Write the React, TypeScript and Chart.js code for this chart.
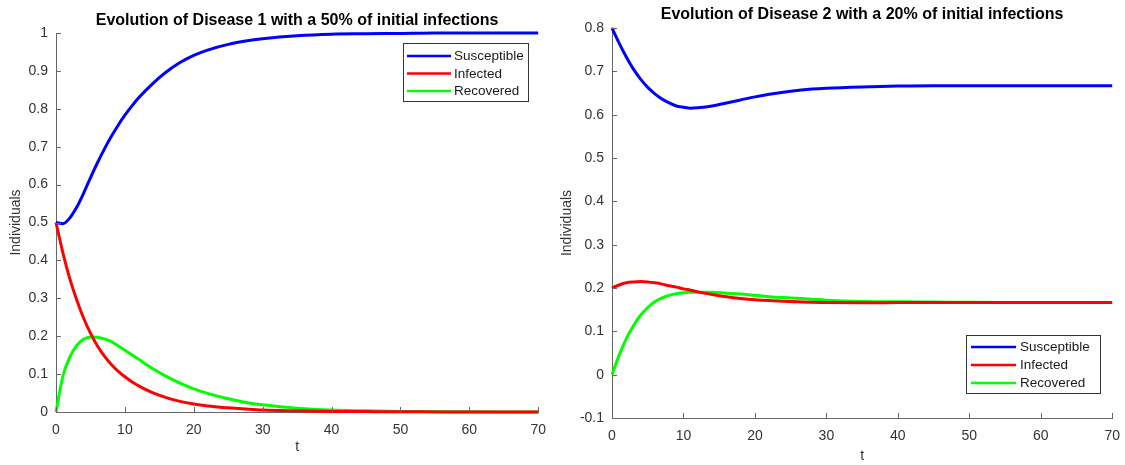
import React, { useEffect, useRef } from "react";
import { Chart, registerables } from "chart.js";

Chart.register(...registerables);

// ---------- data ----------
const timeValues = [0, 1, 2, 3, 4, 5, 6, 7, 8, 9, 10, 11, 12, 14, 16, 18, 20, 22, 25, 28, 30, 35, 40, 45, 50, 55, 60, 65, 70];

const seriesLabels = ["Susceptible", "Infected", "Recovered"];
const seriesColors = ["#0000ff", "#ff0000", "#00ff00"];

const disease1Susceptible = [0.5, 0.497, 0.512, 0.54, 0.577, 0.618, 0.657, 0.693, 0.726, 0.756, 0.783, 0.807, 0.829, 0.866, 0.897, 0.922, 0.941, 0.955, 0.97, 0.98, 0.985, 0.993, 0.997, 0.998, 0.999, 1, 1, 1, 1];
const disease1Infected = [0.5, 0.42, 0.352, 0.296, 0.248, 0.208, 0.175, 0.148, 0.126, 0.108, 0.093, 0.08, 0.069, 0.051, 0.038, 0.028, 0.021, 0.016, 0.011, 0.007, 0.005, 0.003, 0.0015, 0.001, 0.0005, 0.0003, 0.0002, 0.0001, 0];
const disease1Recovered = [0, 0.095, 0.145, 0.175, 0.192, 0.198, 0.197, 0.193, 0.186, 0.175, 0.163, 0.151, 0.139, 0.115, 0.094, 0.076, 0.061, 0.049, 0.035, 0.024, 0.019, 0.01, 0.005, 0.003, 0.0015, 0.001, 0.0005, 0.0002, 0.0001];

const disease2Susceptible = [0.8, 0.765, 0.733, 0.705, 0.682, 0.663, 0.648, 0.636, 0.627, 0.62, 0.617, 0.615, 0.616, 0.62, 0.627, 0.634, 0.641, 0.647, 0.654, 0.659, 0.661, 0.664, 0.666, 0.667, 0.667, 0.667, 0.667, 0.667, 0.667];
const disease2Infected = [0.2, 0.207, 0.212, 0.214, 0.215, 0.214, 0.212, 0.209, 0.205, 0.202, 0.198, 0.195, 0.191, 0.185, 0.18, 0.176, 0.173, 0.171, 0.169, 0.167, 0.1665, 0.166, 0.1663, 0.1665, 0.1667, 0.1667, 0.1667, 0.1667, 0.1667];
const disease2Recovered = [0, 0.045, 0.083, 0.113, 0.137, 0.155, 0.168, 0.177, 0.183, 0.187, 0.189, 0.19, 0.19, 0.19, 0.188, 0.186, 0.183, 0.18, 0.177, 0.174, 0.172, 0.169, 0.168, 0.1675, 0.167, 0.1668, 0.1667, 0.1667, 0.1667];

const xAxisMin = 0;
const xAxisMax = 70;
const xAxisStep = 10;
const disease1YRange = [0, 1];
const disease2YRange = [-0.1, 0.8];
const yAxisStep = 0.1;

const title1 = "Evolution of Disease 1 with a 50% of initial infections";
const title2 = "Evolution of Disease 2 with a 20% of initial infections";
const xTitle = "t";
const yTitle = "Individuals";

// ---------- style ----------
const FONT = "'Liberation Sans', Arial, Helvetica, sans-serif";
const AXIS_COLOR = "#666666";
const TICK_TEXT = "#333333";

const inwardTicks = {
  id: "inwardTicks",
  afterDatasetsDraw(chart: any) {
    const { ctx, chartArea, scales } = chart;
    const len = 5;
    ctx.save();
    ctx.strokeStyle = AXIS_COLOR;
    ctx.lineWidth = 1;
    scales.x.ticks.forEach((t: any) => {
      const x = Math.round(scales.x.getPixelForValue(t.value)) + 0.5;
      ctx.beginPath();
      ctx.moveTo(x, chartArea.bottom);
      ctx.lineTo(x, chartArea.bottom - len);
      ctx.stroke();
    });
    scales.y.ticks.forEach((t: any) => {
      const y = Math.round(scales.y.getPixelForValue(t.value)) + 0.5;
      ctx.beginPath();
      ctx.moveTo(chartArea.left, y);
      ctx.lineTo(chartArea.left + len, y);
      ctx.stroke();
    });
    ctx.restore();
  },
};

const boxLegend = {
  id: "boxLegend",
  afterDraw(chart: any, _args: any, opts: any) {
    const { ctx, chartArea } = chart;
    const w = opts.width;
    const h = opts.height;
    const x = Math.round(chartArea.right - opts.right - w);
    const y = opts.top !== undefined ? Math.round(chartArea.top + opts.top) : Math.round(chartArea.bottom - opts.bottom - h);
    ctx.save();
    ctx.fillStyle = "#ffffff";
    ctx.fillRect(x, y, w, h);
    ctx.strokeStyle = "#333333";
    ctx.lineWidth = 1;
    ctx.strokeRect(x + 0.5, y + 0.5, w, h);
    ctx.font = `${opts.fontSize}px ${FONT}`;
    ctx.textBaseline = "middle";
    ctx.textAlign = "left";
    chart.data.datasets.forEach((ds: any, i: number) => {
      const ry = y + opts.rowStart + i * opts.rowGap;
      ctx.strokeStyle = ds.borderColor;
      ctx.lineWidth = 2.5;
      ctx.beginPath();
      ctx.moveTo(x + opts.lineStart, ry);
      ctx.lineTo(x + opts.lineEnd, ry);
      ctx.stroke();
      ctx.fillStyle = "#1a1a1a";
      ctx.fillText(ds.label, x + opts.textStart, ry + 0.5);
    });
    ctx.restore();
  },
};

type PanelProps = {
  left: number;
  width: number;
  title: string;
  series: number[][];
  yRange: number[];
  area: { left: number; top: number; bottom: number };
  titlePad: { top: number; bottom: number };
  yTitlePad: number;
  xTitlePad: number;
  legend: any;
};

function Panel(props: PanelProps) {
  const ref = useRef<HTMLCanvasElement | null>(null);
  useEffect(() => {
    const canvas = ref.current;
    if (!canvas) return;
    const height = 465;
    const chart = new Chart(canvas, {
      type: "line",
      data: {
        datasets: props.series.map((vals, i) => ({
          label: seriesLabels[i],
          data: timeValues.map((t, j) => ({ x: t, y: vals[j] })),
          borderColor: seriesColors[i],
          backgroundColor: seriesColors[i],
          borderWidth: 3,
          pointRadius: 0,
          cubicInterpolationMode: "monotone",
          fill: false,
          clip: false,
        })),
      },
      options: {
        responsive: false,
        animation: false,
        events: [],
        layout: { padding: { left: 0, right: 0, top: 0, bottom: 0 } },
        plugins: {
          legend: { display: false },
          tooltip: { enabled: false },
          title: {
            display: true,
            text: props.title,
            fullSize: false,
            color: "#000000",
            font: { family: FONT, size: 16, weight: "bold" },
            padding: props.titlePad,
          },
          boxLegend: props.legend,
        } as any,
        scales: {
          x: {
            type: "linear",
            min: xAxisMin,
            max: xAxisMax,
            afterFit: (s: any) => {
              s.height = height - props.area.bottom;
            },
            ticks: { stepSize: xAxisStep, color: TICK_TEXT, font: { family: FONT, size: 14 }, padding: 10, maxRotation: 0 },
            grid: { display: true, drawOnChartArea: false, drawTicks: false },
            border: { display: true, color: AXIS_COLOR, width: 1 },
            title: { display: true, text: xTitle, color: TICK_TEXT, font: { family: FONT, size: 14 }, padding: { top: 0, bottom: props.xTitlePad } },
          },
          y: {
            type: "linear",
            min: props.yRange[0],
            max: props.yRange[1],
            afterFit: (s: any) => {
              s.width = props.area.left;
            },
            ticks: {
              stepSize: yAxisStep,
              color: TICK_TEXT,
              font: { family: FONT, size: 14 },
              padding: 8,
              callback: (v: any) => {
                const n = Math.round(Number(v) * 10) / 10;
                return String(n);
              },
            },
            grid: { display: true, drawOnChartArea: false, drawTicks: false },
            border: { display: true, color: AXIS_COLOR, width: 1 },
            title: { display: true, text: yTitle, color: TICK_TEXT, font: { family: FONT, size: 14 }, padding: { top: props.yTitlePad, bottom: 0 } },
          },
        },
      },
      plugins: [inwardTicks, boxLegend],
    } as any);
    return () => chart.destroy();
  }, []);
  return (
    <canvas
      ref={ref}
      width={props.width}
      height={465}
      style={{ position: "absolute", left: props.left, top: 0, width: props.width, height: 465 }}
    />
  );
}

export default function App() {
  useEffect(() => {
    document.body.style.margin = "0";
    document.body.style.background = "#ffffff";
  }, []);
  return (
    <div style={{ position: "relative", width: 1125, height: 465, background: "#ffffff", overflow: "hidden" }}>
      <Panel
        left={0}
        width={556}
        title={title1}
        series={[disease1Susceptible, disease1Infected, disease1Recovered]}
        yRange={disease1YRange}
        area={{ left: 56, top: 33, bottom: 412 }}
        titlePad={{ top: 10.5, bottom: 3.3 }}
        yTitlePad={8}
        xTitlePad={9}
        legend={{ right: 10, top: 10, width: 125, height: 58, rowStart: 13, rowGap: 17.5, lineStart: 4, lineEnd: 48, textStart: 51, fontSize: 13.5 }}
      />
      <Panel
        left={550}
        width={580}
        title={title2}
        series={[disease2Susceptible, disease2Infected, disease2Recovered]}
        yRange={disease2YRange}
        area={{ left: 62, top: 28, bottom: 418 }}
        titlePad={{ top: 4.5, bottom: 4.3 }}
        yTitlePad={9}
        xTitlePad={0}
        legend={{ right: 12, bottom: 25, width: 134, height: 58, rowStart: 12, rowGap: 18, lineStart: 5, lineEnd: 50, textStart: 54, fontSize: 13.5 }}
      />
    </div>
  );
}
